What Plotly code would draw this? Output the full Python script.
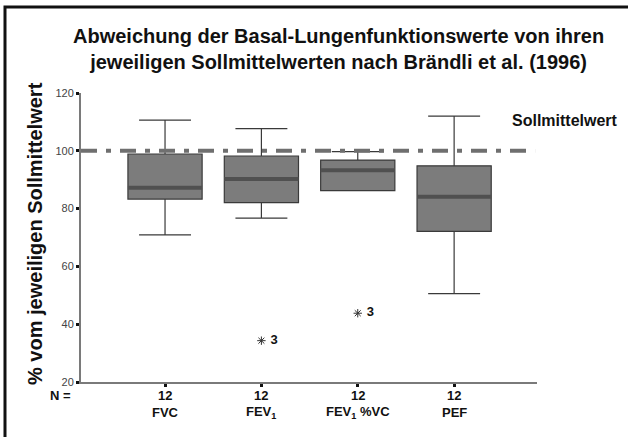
import plotly.graph_objects as go

categories = ["FVC", "FEV<sub>1</sub>", "FEV<sub>1</sub> %VC", "PEF"]
n_values = [12, 12, 12, 12]
q1 = [83.3, 82.1, 86.2, 72.1]
median = [87.2, 90.2, 93.3, 84.1]
q3 = [98.9, 98.2, 96.8, 94.8]
lower_whisker = [70.9, 76.7, 86.2, 50.6]
upper_whisker = [110.6, 107.7, 99.7, 112.0]
outlier_pos = [1, 2]
outlier_vals = [34.3, 43.8]
outlier_labels = ["3", "3"]
reference_value = 100
y_ticks = [20, 40, 60, 80, 100, 120]

FONT = "Liberation Sans, Arial, sans-serif"
xpos = list(range(len(categories)))
XMIN, XMAX = -0.872, 3.86
YMIN, YMAX = 20, 120

fig = go.Figure()

fig.add_trace(go.Box(
    x=xpos, q1=q1, median=median, q3=q3,
    lowerfence=lower_whisker, upperfence=upper_whisker,
    width=0.77, whiskerwidth=0.7,
    fillcolor="#7c7c7c", line=dict(color="#3a3a3a", width=1.2),
    boxpoints=False, hoverinfo="skip", showlegend=False,
))

# darker, thicker median lines
for i, m in enumerate(median):
    fig.add_trace(go.Scatter(
        x=[xpos[i] - 0.385, xpos[i] + 0.385], y=[m, m], mode="lines",
        line=dict(color="#505050", width=4), hoverinfo="skip", showlegend=False,
    ))

# reference line (Sollmittelwert)
fig.add_trace(go.Scatter(
    x=[XMIN, XMAX - 0.02], y=[reference_value, reference_value], mode="lines",
    line=dict(color="#6f6f6f", width=4, dash="16px,9px,5px,9px"),
    hoverinfo="skip", showlegend=False,
))

# outliers
fig.add_trace(go.Scatter(
    x=outlier_pos, y=outlier_vals, mode="markers+text",
    marker=dict(symbol="asterisk-open", size=7, color="#333", line=dict(width=1, color="#333")),
    text=[" " + t for t in outlier_labels], textposition="middle right",
    textfont=dict(family=FONT, size=13, color="#111", weight="bold"),
    hoverinfo="skip", showlegend=False, cliponaxis=False,
))

annotations = []
for i, cat in enumerate(categories):
    annotations.append(dict(x=xpos[i], xref="x", y=-0.045, yref="paper", yanchor="middle",
                            text="<b>%d</b>" % n_values[i], showarrow=False,
                            font=dict(family=FONT, size=13, color="#111")))
    annotations.append(dict(x=xpos[i], xref="x", y=-0.105, yref="paper", yanchor="middle",
                            text="<b>%s</b>" % cat, showarrow=False,
                            font=dict(family=FONT, size=13, color="#111")))
annotations.append(dict(x=(60 - 81) / 456, xref="paper", y=-0.045, yref="paper",
                        xanchor="center", yanchor="middle", text="<b>N =</b>", showarrow=False,
                        font=dict(family=FONT, size=13, color="#111")))
annotations.append(dict(x=(565 - 81) / 456, xref="paper", y=(382 - 120) / 289, yref="paper",
                        xanchor="center", yanchor="middle", text="<b>Sollmittelwert</b>", showarrow=False,
                        font=dict(family=FONT, size=16, color="#111")))
annotations.append(dict(x=(35 - 81) / 456, xref="paper", y=(382 - 234) / 289, yref="paper",
                        xanchor="center", yanchor="middle", textangle=-90,
                        text="<b>% vom jeweiligen Sollmittelwert</b>", showarrow=False,
                        font=dict(family=FONT, size=20, color="#111")))
annotations.append(dict(x=(338 - 81) / 456, xref="paper", y=(382 - 49) / 289, yref="paper",
                        xanchor="center", yanchor="middle",
                        text="<b>Abweichung der Basal-Lungenfunktionswerte von ihren<br>jeweiligen Sollmittelwerten nach Brändli et al. (1996)</b>",
                        showarrow=False, align="center",
                        font=dict(family=FONT, size=20, color="#111")))

# frame (left and top edges)
shapes = [dict(type="path", xref="paper", yref="paper",
               path="M %f %f L %f %f L %f %f" % ((5 - 81) / 456, (382 - 445) / 289,
                                                 (5 - 81) / 456, (382 - 7) / 289,
                                                 (640 - 81) / 456, (382 - 7) / 289),
               line=dict(color="#111", width=3))]

fig.update_layout(
    width=628, height=437,
    margin=dict(l=81, r=91, t=93, b=55),
    paper_bgcolor="white", plot_bgcolor="white",
    annotations=annotations, shapes=shapes,
    font=dict(family=FONT),
    xaxis=dict(range=[XMIN, XMAX], tickvals=xpos, showticklabels=False,
               showgrid=False, zeroline=False, showline=True, linecolor="#7a7a7a", linewidth=2,
               ticks="outside", ticklen=3, tickwidth=3, tickcolor="#111"),
    yaxis=dict(range=[YMIN, YMAX], tickvals=y_ticks, showgrid=False, zeroline=False,
               showline=True, linecolor="#7a7a7a", linewidth=2,
               ticks="outside", ticklen=3, tickwidth=3, tickcolor="#111",
               tickfont=dict(family=FONT, size=11, color="#444")),
)

fig.write_html("out.html")
